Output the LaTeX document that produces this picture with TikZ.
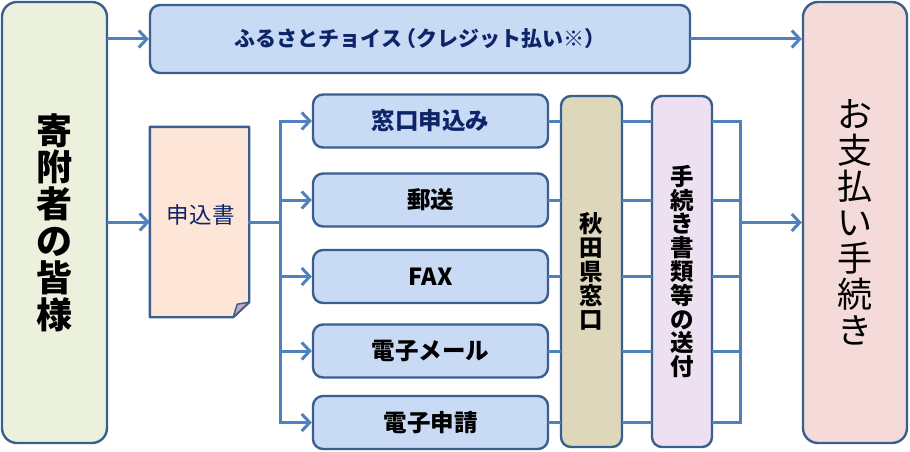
\documentclass[tikz,border=0pt]{standalone}
\usepackage{fontspec}
\setmainfont{Noto Sans CJK JP}
\usetikzlibrary{arrows.meta,calc}
\definecolor{conncol}{HTML}{4F81BD}
\definecolor{bord}{HTML}{3A5F8F}
\definecolor{navy}{HTML}{0E2468}
\definecolor{greenfill}{HTML}{EBF1DC}
\definecolor{bluefill}{HTML}{C9DAF4}
\definecolor{pinkfill}{HTML}{F5DADA}
\definecolor{peachfill}{HTML}{FDE6D8}
\definecolor{tanfill}{HTML}{DDD8BC}
\definecolor{lavfill}{HTML}{EDE0F0}
\definecolor{foldfill}{HTML}{C9A9BC}
\begin{document}
\begin{tikzpicture}[x=1pt,y=1pt,
  box/.style={draw=bord, line width=2.4pt, rounded corners=10pt, inner sep=0pt, align=center},
  svc/.style={box, fill=bluefill, minimum width=235pt, minimum height=53pt,
    font=\fontsize{23.5}{26}\selectfont\bfseries},
  tall/.style={box, minimum width=61pt, minimum height=351pt,
    font=\fontsize{23.5}{23.8}\selectfont\bfseries},
  conn/.style={draw=conncol, line width=3pt, line cap=rect},
  arr/.style={conn, -{Straight Barb[length=8pt,width=17pt]}}]
\useasboundingbox (0,0) rectangle (910,451);

% main boxes
\node[box, rounded corners=15pt, fill=greenfill, minimum width=105pt, minimum height=441pt,
  font=\fontsize{36}{36.8}\selectfont\bfseries] (left) at (54.5,228.5) {寄\\附\\者\\の\\皆\\様};
\node[box, fill=bluefill, minimum width=540pt, minimum height=68pt,
  font=\fontsize{21}{24}\selectfont\bfseries, text=navy] (top) at (420,412) {ふるさとチョイス\hspace{-0.35em}（クレジット払い※）};
\node[box, rounded corners=15pt, fill=pinkfill, minimum width=104pt, minimum height=441pt,
  font=\fontsize{35}{36}\selectfont] (right) at (855,228.5) {お\\支\\払\\い\\手\\続\\き};

% document
\node[minimum width=99pt, minimum height=190pt, inner sep=0pt] (doc) at (199.5,229) {};
\draw[draw=bord, line width=2.4pt, fill=peachfill, line join=round]
  (doc.north west) -- (doc.north east) -- ($(doc.south east)+(0,15)$)
  -- ($(doc.south east)+(-16,0)$) -- (doc.south west) -- cycle;
\draw[draw=bord, line width=1.5pt, fill=foldfill, line join=round]
  ($(doc.south east)+(-16,0)$) -- ($(doc.south east)+(-12,13)$) -- ($(doc.south east)+(0,15)$) -- cycle;
\node[font=\fontsize{22.5}{24}\selectfont\addfontfeatures{LetterSpace=3}, text=navy] (doctext) at (200.5,236) {申込書};

% services
\node[svc, text=navy] (s1) at (430.5,330) {窓口申込み};
\node[svc] (s2) at (430.5,251) {郵送};
\node[svc] (s3) at (430.5,174.5) {FAX};
\node[svc] (s4) at (430.5,100) {電子メール};
\node[svc] (s5) at (430.5,28.5) {電子申請};

\node[tall, fill=tanfill] (aki) at (591.5,179.5) {秋\\田\\県\\窓\\口};
\node[tall, fill=lavfill, minimum width=60pt] (tet) at (682,179.5) {手\\続\\き\\書\\類\\等\\の\\送\\付};

\coordinate (bl) at (280,229);
\coordinate (br) at (740,229);

% connectors
\draw[arr] (left.east |- top.west) -- (top.west);
\draw[arr] (top.east) -- (top.east -| right.west);
\draw[arr] (left.east |- doc.west) -- (doc.west);
\draw[conn] (doc.east) -- (bl);
\draw[conn] (bl |- s1.west) -- (bl |- s5.west);
\foreach \s in {s1,s2,s3,s4,s5}{
  \draw[arr] (bl |- \s.west) -- (\s.west);
  \draw[conn] (\s.east) -- (\s.east -| aki.west);
  \draw[conn] (\s.east -| aki.east) -- (\s.east -| tet.west);
  \draw[conn] (\s.east -| tet.east) -- (\s.east -| br);
}
\draw[conn] (br |- s1.east) -- (br |- s5.east);
\draw[arr] (br |- right.west) -- (right.west);
\end{tikzpicture}
\end{document}
